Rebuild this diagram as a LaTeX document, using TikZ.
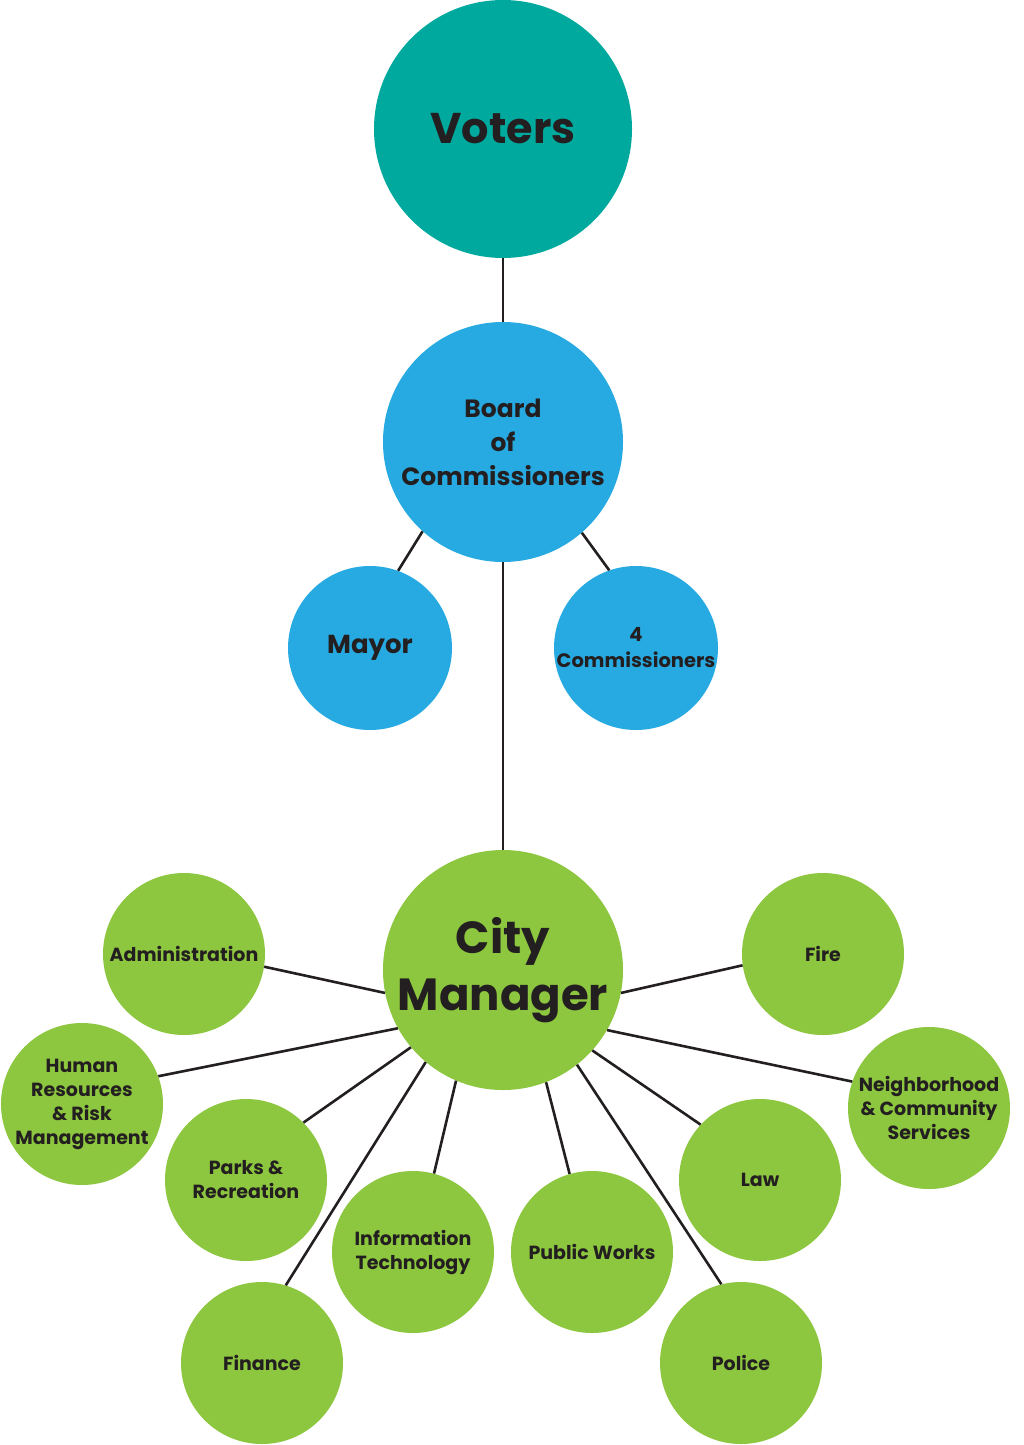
\documentclass[tikz,border=0pt]{standalone}
\usepackage{fontspec}
\setmainfont{Poppins}
\definecolor{teal1}{HTML}{00A99D}
\definecolor{blue1}{HTML}{27AAE1}
\definecolor{green1}{HTML}{8DC63F}
\definecolor{ink}{HTML}{231F20}
\begin{document}
\begin{tikzpicture}[x=1pt,y=-1pt,
  bubble/.style={circle,inner sep=0pt,align=center,text=ink,font=\bfseries},
  big/.style={bubble,minimum size=240pt},
  small/.style={bubble,fill=green1,minimum size=162pt,font=\bfseries\fontsize{19}{24}\selectfont},
  link/.style={draw=ink,line width=2.6pt}]
\useasboundingbox (0,0) rectangle (1024,1445);
\fill[white] (0,0) rectangle (1024,1445);
\node[bubble,fill=teal1,minimum size=258pt,font=\bfseries\fontsize{43}{50}\selectfont] (voters) at (503,129) {Voters};
\node[big,fill=blue1,font=\bfseries\fontsize{25}{34}\selectfont] (board) at (503,442) {Board\\of\\Commissioners};
\node[bubble,fill=blue1,minimum size=164pt,font=\bfseries\fontsize{26}{30}\selectfont] (mayor) at (370,648) {Mayor};
\node[bubble,fill=blue1,minimum size=164pt,font=\bfseries\fontsize{19.5}{26}\selectfont] (comm) at (636,648) {4\\Commissioners};
\node[big,fill=green1,font=\bfseries\fontsize{45}{57}\selectfont] (cm) at (503,970) {City\\Manager};
\node[small] (admin) at (184,954) {Administration};
\node[small] (fire) at (823,954) {Fire};
\node[small] (hr) at (82,1104) {Human\\Resources\\\&~Risk\\Management};
\node[small] (nbh) at (929,1108) {Neighborhood\\\&~Community\\Services};
\node[small] (parks) at (246,1180) {Parks \&\\Recreation};
\node[small] (law) at (760,1180) {Law};
\node[small] (it) at (413,1252) {Information\\Technology};
\node[small] (pw) at (592,1252) {Public Works};
\node[small] (fin) at (262,1363) {Finance};
\node[small] (pol) at (741,1363) {Police};
\draw[link] (voters.south) -- (board.north);
\draw[link] (board.228.7) -- (mayor.70.7);
\draw[link] (board.311.3) -- (comm.109.3);
\draw[link] (board.south) -- (cm.north);
\draw[link] (cm.191) -- (admin.351);
\draw[link] (cm.349) -- (fire.188.5);
\draw[link] (cm.209.3) -- (hr.20.4);
\draw[link] (cm.330.7) -- (nbh.161.4);
\draw[link] (cm.220.3) -- (parks.45);
\draw[link] (cm.318.7) -- (law.137);
\draw[link] (cm.247) -- (it.75.3);
\draw[link] (cm.291.2) -- (pw.106.6);
\draw[link] (cm.230.7) -- (fin.73.3);
\draw[link] (cm.308.9) -- (pol.104.7);
\end{tikzpicture}
\end{document}
